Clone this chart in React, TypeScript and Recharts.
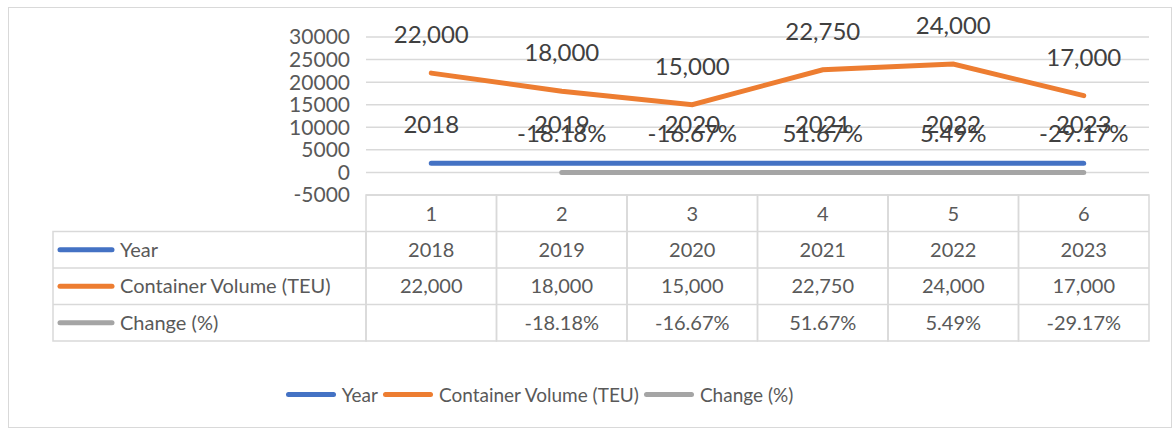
import { CartesianGrid, LabelList, Line, LineChart, XAxis, YAxis } from "recharts";

const categories = ["1", "2", "3", "4", "5", "6"];
const years = [2018, 2019, 2020, 2021, 2022, 2023];
const containerVolume = [22000, 18000, 15000, 22750, 24000, 17000];
const changePct = [null, -18.18, -16.67, 51.67, 5.49, -29.17];
const yTicks = [-5000, 0, 5000, 10000, 15000, 20000, 25000, 30000];

const W = 1174;
const H = 429;
const PLOT_LEFT = 366;
const PLOT_RIGHT = 1149;
const PLOT_TOP = 37;
const PLOT_BOTTOM = 195;
const Y_AXIS_W = 60;
const X_AXIS_H = 150;
const COL_W = (PLOT_RIGHT - PLOT_LEFT) / categories.length;
const ROW_H = 36.5;
const TABLE_LEFT = 53;

const FONT = "Lato, 'Open Sans', sans-serif";
const TEXT = "#595959";
const GRID = "#d9d9d9";

const SERIES = [
  { key: "year", name: "Year", color: "#4472C4" },
  { key: "volume", name: "Container Volume (TEU)", color: "#ED7D31" },
  { key: "change", name: "Change (%)", color: "#A5A5A5" },
];

const fmtNum = (v: number) => v.toLocaleString("en-US");
const fmtPct = (v: number) => `${(v * 100).toFixed(2)}%`;
const tableText = [
  (i: number) => String(years[i]),
  (i: number) => fmtNum(containerVolume[i]),
  (i: number) => (changePct[i] == null ? "" : `${(changePct[i] as number).toFixed(2)}%`),
];

const data = categories.map((c, i) => ({
  cat: c,
  year: years[i],
  volume: containerVolume[i],
  change: changePct[i] == null ? null : (changePct[i] as number) / 100,
}));

function makeLabel(format: (v: number) => string) {
  return (props: any) => {
    const { x, y, value } = props;
    if (value == null) return null;
    return (
      <text
        x={x}
        y={y - 30}
        textAnchor="middle"
        fill="#404040"
        fontSize={24}
        fontFamily={FONT}
      >
        {format(value)}
      </text>
    );
  };
}

// one column of the data table under each category
function TableTick(props: any) {
  const { x, payload, index } = props;
  const left = x - COL_W / 2;
  const rowY = (r: number) => PLOT_BOTTOM + r * ROW_H;
  return (
    <g fontFamily={FONT} fontSize={20} fill={TEXT}>
      <rect
        x={left}
        y={PLOT_BOTTOM}
        width={COL_W}
        height={ROW_H * 4}
        fill="none"
        stroke={GRID}
        strokeWidth={1.5}
      />
      {[1, 2, 3].map((r) => (
        <line key={r} x1={left} x2={left + COL_W} y1={rowY(r)} y2={rowY(r)} stroke={GRID} strokeWidth={1.5} />
      ))}
      <text x={x} y={rowY(0) + ROW_H / 2 + 8} textAnchor="middle">
        {payload.value}
      </text>
      {tableText.map((f, r) => (
        <text key={r} x={x} y={rowY(r + 1) + ROW_H / 2 + 7} textAnchor="middle">
          {f(index)}
        </text>
      ))}
      {index === 0 && (
        <g>
          <rect
            x={TABLE_LEFT}
            y={rowY(1)}
            width={PLOT_LEFT - TABLE_LEFT}
            height={ROW_H * 3}
            fill="none"
            stroke={GRID}
            strokeWidth={1.5}
          />
          {[2, 3].map((r) => (
            <line key={r} x1={TABLE_LEFT} x2={PLOT_LEFT} y1={rowY(r)} y2={rowY(r)} stroke={GRID} strokeWidth={1.5} />
          ))}
          {SERIES.map((s, r) => (
            <g key={s.key}>
              <line
                x1={60}
                x2={112}
                y1={rowY(r + 1) + ROW_H / 2}
                y2={rowY(r + 1) + ROW_H / 2}
                stroke={s.color}
                strokeWidth={5}
                strokeLinecap="round"
              />
              <text x={120} y={rowY(r + 1) + ROW_H / 2 + 7}>
                {s.name}
              </text>
            </g>
          ))}
        </g>
      )}
    </g>
  );
}

export default function App() {
  return (
    <div style={{ position: "absolute", left: 0, top: 0, width: W, height: H, background: "#fff" }}>
      <div
        style={{
          position: "absolute",
          left: 8,
          top: 7,
          width: W - 10,
          height: H - 8,
          border: `1px solid ${GRID}`,
          boxSizing: "border-box",
        }}
      />
      <div style={{ position: "absolute", left: 0, top: 0 }}>
        <LineChart
          width={W}
          height={H}
          data={data}
          margin={{
            top: PLOT_TOP,
            left: PLOT_LEFT - Y_AXIS_W,
            right: W - PLOT_RIGHT,
            bottom: H - PLOT_BOTTOM - X_AXIS_H,
          }}
        >
          <CartesianGrid vertical={false} stroke={GRID} strokeWidth={1.5} />
          <XAxis
            dataKey="cat"
            height={X_AXIS_H}
            axisLine={false}
            tickLine={false}
            interval={0}
            padding={{ left: COL_W / 2, right: COL_W / 2 }}
            tick={<TableTick />}
          />
          <YAxis
            width={Y_AXIS_W}
            domain={[-5000, 30000]}
            ticks={yTicks}
            interval={0}
            axisLine={false}
            tickLine={false}
            tickMargin={10}
            tick={{ fill: TEXT, fontSize: 21, fontFamily: FONT }}
          />
          {SERIES.map((s) => (
            <Line
              key={s.key}
              type="linear"
              dataKey={s.key}
              name={s.name}
              stroke={s.color}
              strokeWidth={5}
              strokeLinecap="round"
              dot={false}
              activeDot={false}
              isAnimationActive={false}
            >
              <LabelList
                dataKey={s.key}
                content={makeLabel(
                  s.key === "year" ? (v) => String(v) : s.key === "volume" ? fmtNum : fmtPct
                )}
              />
            </Line>
          ))}
        </LineChart>
      </div>
      <div
        style={{
          position: "absolute",
          left: 0,
          top: 383,
          width: 1084,
          display: "flex",
          justifyContent: "center",
          alignItems: "center",
          fontFamily: FONT,
          fontSize: 19,
          color: TEXT,
        }}
      >
        {SERIES.map((s) => (
          <div key={s.key} style={{ display: "flex", alignItems: "center", marginRight: 5 }}>
            <span
              style={{
                display: "inline-block",
                width: 50,
                height: 5,
                borderRadius: 3,
                background: s.color,
                marginRight: 6,
              }}
            />
            <span>{s.name}</span>
          </div>
        ))}
      </div>
    </div>
  );
}
